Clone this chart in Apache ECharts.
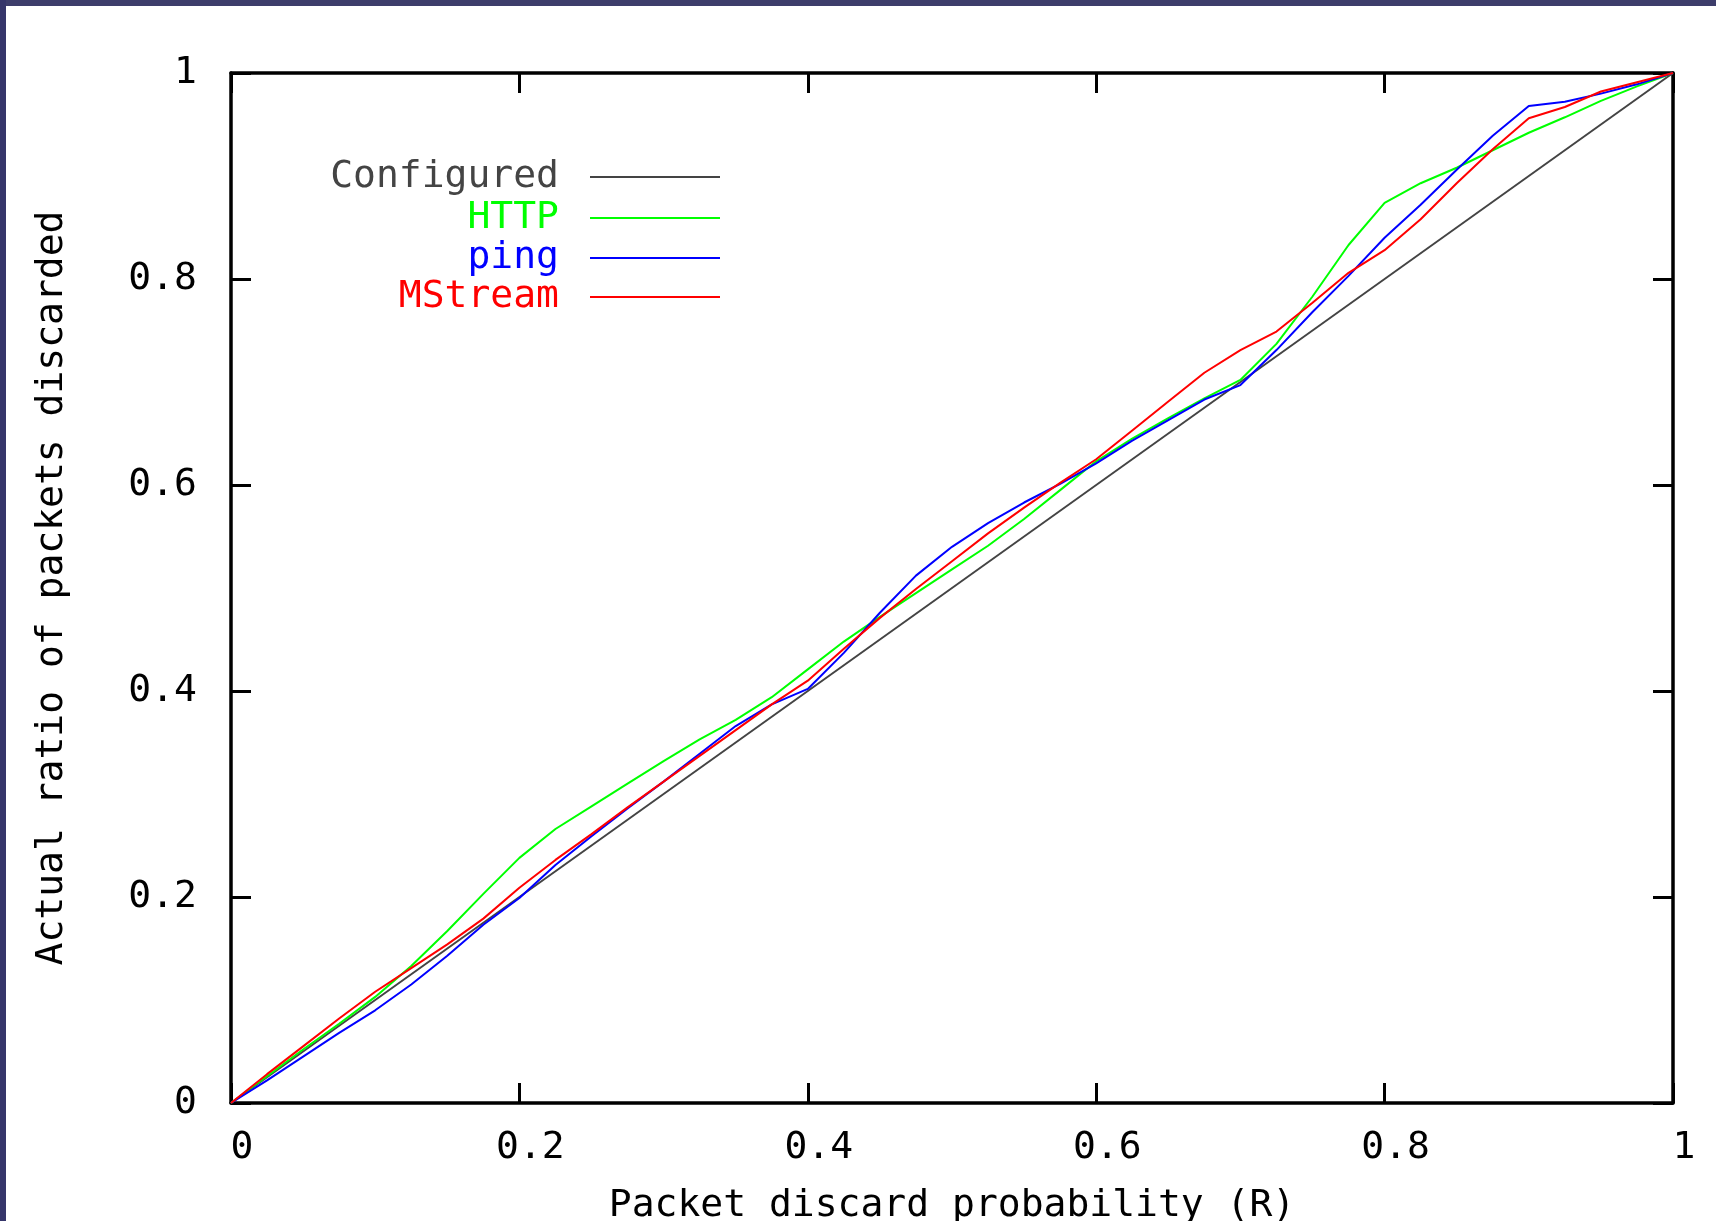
<!DOCTYPE html>
<html>
<head>
<meta charset="utf-8">
<script src="https://cdn.jsdelivr.net/npm/echarts@6/dist/echarts.min.js"></script>
<style>
  html, body { margin: 0; padding: 0; background: #ffffff; }
  #chart { width: 1716px; height: 1221px; position: relative; }
  .bt { position: absolute; left: 0; top: 0; width: 1716px; height: 6px; background: #3d3d6b; }
  .bl { position: absolute; left: 0; top: 0; width: 6px; height: 1221px; background: #35356a; }
</style>
</head>
<body>
<div style="position:relative;width:1716px;height:1221px;">
  <div id="chart"></div>
  <div class="bt"></div>
  <div class="bl"></div>
</div>
<script>
// ---- data ----
const xValues = [0, 0.025, 0.05, 0.075, 0.1, 0.125, 0.15, 0.175, 0.2, 0.225, 0.25, 0.275, 0.3, 0.325, 0.35, 0.375, 0.4, 0.425, 0.45, 0.475, 0.5, 0.525, 0.55, 0.575, 0.6, 0.625, 0.65, 0.675, 0.7, 0.725, 0.75, 0.775, 0.8, 0.825, 0.85, 0.875, 0.9, 0.925, 0.95, 0.975, 1];
const httpValues = [0, 0.026, 0.052, 0.077, 0.103, 0.133, 0.167, 0.203, 0.238, 0.266, 0.288, 0.31, 0.332, 0.353, 0.372, 0.394, 0.421, 0.448, 0.472, 0.495, 0.518, 0.541, 0.567, 0.595, 0.623, 0.645, 0.665, 0.684, 0.702, 0.737, 0.783, 0.833, 0.874, 0.893, 0.908, 0.925, 0.942, 0.957, 0.973, 0.987, 1];
const pingValues = [0, 0.022, 0.045, 0.068, 0.09, 0.115, 0.143, 0.173, 0.199, 0.231, 0.259, 0.286, 0.312, 0.339, 0.366, 0.387, 0.402, 0.437, 0.476, 0.512, 0.54, 0.563, 0.583, 0.601, 0.621, 0.643, 0.663, 0.683, 0.697, 0.731, 0.768, 0.803, 0.84, 0.872, 0.906, 0.939, 0.968, 0.972, 0.98, 0.989, 1];
const mstreamValues = [0, 0.028, 0.055, 0.082, 0.108, 0.131, 0.154, 0.179, 0.209, 0.236, 0.261, 0.287, 0.312, 0.337, 0.362, 0.387, 0.41, 0.441, 0.471, 0.499, 0.526, 0.553, 0.578, 0.602, 0.625, 0.653, 0.681, 0.709, 0.731, 0.749, 0.777, 0.806, 0.828, 0.858, 0.893, 0.926, 0.956, 0.967, 0.982, 0.991, 1];
const configuredX = [0, 1];
const configuredY = [0, 1];
const seriesNames = ['Configured', 'HTTP', 'ping', 'MStream'];
const xTitle = 'Packet discard probability (R)';
const yTitle = 'Actual ratio of packets discarded';

// ---- styles ----
const colors = ['#444444', '#00ff00', '#0000ff', '#ff0000'];
const FONT = 'DejaVu Sans Mono';
const zip = (xs, ys) => xs.map((x, i) => [x, ys[i]]);

const chart = echarts.init(document.getElementById('chart'), null, { renderer: 'canvas' });

const mkLine = () => ({ show: true, onZero: false, lineStyle: { color: '#000', width: 3.5 } });
const mkTick = () => ({ show: true, inside: true, length: 20, lineStyle: { color: '#000', width: 3 } });

const legendRows = [173, 214, 254, 293];
const legends = seriesNames.map((n, i) => ({
  data: [n],
  right: 991,
  top: legendRows[i] - 20,
  align: 'right',
  icon: 'rect',
  itemWidth: 130,
  itemHeight: 2,
  selectedMode: false,
  textStyle: { color: colors[i], fontFamily: FONT, fontSize: 38, padding: [0, 26, 0, 0] }
}));

chart.setOption({
  animation: false,
  backgroundColor: '#ffffff',
  color: colors,
  grid: { left: 231, top: 73, right: 43, bottom: 118, containLabel: false, outerBoundsMode: 'none' },
  legend: legends,
  xAxis: [
    {
      type: 'value', min: 0, max: 1, interval: 0.2, position: 'bottom',
      axisLine: mkLine(), axisTick: mkTick(), splitLine: { show: false },
      axisLabel: { color: '#000', fontFamily: FONT, fontSize: 38, margin: 26, padding: [0, 0, 0, 22] },
      name: xTitle, nameLocation: 'middle', nameGap: 84,
      nameTextStyle: { color: '#000', fontFamily: FONT, fontSize: 38 }
    },
    {
      type: 'value', min: 0, max: 1, interval: 0.2, position: 'top',
      axisLine: mkLine(), axisTick: mkTick(), splitLine: { show: false }, axisLabel: { show: false }
    }
  ],
  yAxis: [
    {
      type: 'value', min: 0, max: 1, interval: 0.2, position: 'left',
      axisLine: mkLine(), axisTick: mkTick(), splitLine: { show: false },
      axisLabel: { color: '#000', fontFamily: FONT, fontSize: 38, margin: 34 },
      name: yTitle, nameLocation: 'middle', nameGap: 160, nameRotate: 90,
      nameTextStyle: { color: '#000', fontFamily: FONT, fontSize: 38 }
    },
    {
      type: 'value', min: 0, max: 1, interval: 0.2, position: 'right',
      axisLine: mkLine(), axisTick: mkTick(), splitLine: { show: false }, axisLabel: { show: false }
    }
  ],
  series: [
    { name: seriesNames[0], type: 'line', data: zip(configuredX, configuredY), showSymbol: false, lineStyle: { width: 2, color: colors[0] }, itemStyle: { color: colors[0] } },
    { name: seriesNames[1], type: 'line', data: zip(xValues, httpValues), showSymbol: false, lineStyle: { width: 2, color: colors[1] }, itemStyle: { color: colors[1] } },
    { name: seriesNames[2], type: 'line', data: zip(xValues, pingValues), showSymbol: false, lineStyle: { width: 2, color: colors[2] }, itemStyle: { color: colors[2] } },
    { name: seriesNames[3], type: 'line', data: zip(xValues, mstreamValues), showSymbol: false, lineStyle: { width: 2, color: colors[3] }, itemStyle: { color: colors[3] } }
  ]
});
</script>
</body>
</html>
